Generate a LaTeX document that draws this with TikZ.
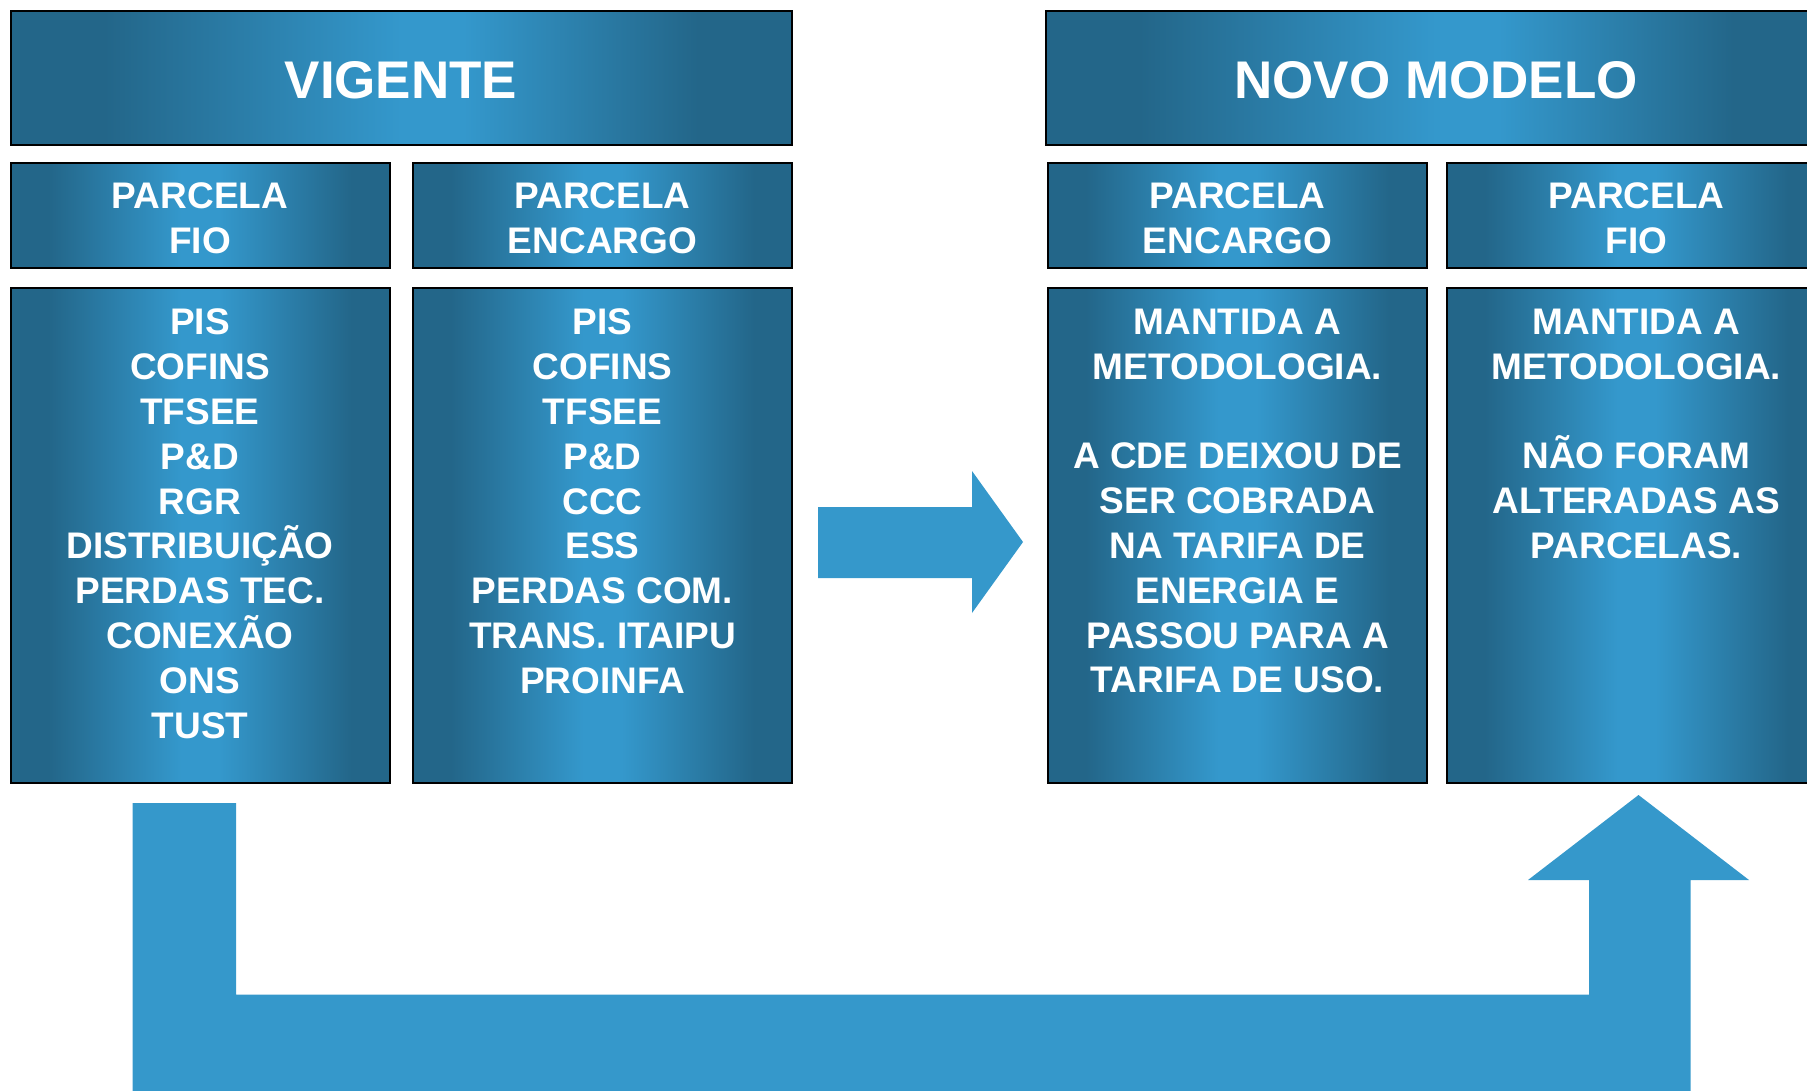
\documentclass[tikz,border=0pt]{standalone}
\usepackage{fontspec}
\setmainfont{Liberation Sans}
\usetikzlibrary{calc}
\definecolor{dk}{RGB}{35,102,137}
\definecolor{lt}{RGB}{52,152,204}
\definecolor{arr}{RGB}{53,152,203}
\pgfdeclarehorizontalshading{boxshade}{100bp}{color(0bp)=(dk); color(30bp)=(dk); color(47.5bp)=(lt); color(52.5bp)=(lt); color(70bp)=(dk); color(100bp)=(dk)}
\pgfdeclarehorizontalshading{headshade}{100bp}{color(0bp)=(dk); color(31bp)=(dk); color(50bp)=(lt); color(54bp)=(lt); color(69bp)=(dk); color(100bp)=(dk)}
\begin{document}
\begin{tikzpicture}[x=1pt,y=-1pt,
  panel/.style={draw=black, line width=2pt, shading=boxshade, inner sep=0pt, outer sep=0pt},
  head/.style={panel, shading=headshade, minimum width=781pt, minimum height=134pt},
  sub/.style={panel, minimum width=379pt, minimum height=105pt},
  tall/.style={panel, minimum width=379pt, minimum height=495pt},
  txt/.style={inner sep=0pt, text=white, align=center, font=\bfseries\fontsize{37pt}{44.8pt}\selectfont},
  headtxt/.style={txt, font=\bfseries\fontsize{53pt}{60pt}\selectfont},
  body/.style={txt, anchor=north},
  blockarrow/.style={fill=arr, draw=none}]
\useasboundingbox (0,0) rectangle (1807,1091);
\clip (0,0) rectangle (1807,1091);
% headers
\node[head] (vig) at (401,78.5) {};
\node[head] (novo) at (1436,78.5) {};
\node[headtxt] at ($(vig.center)+(0,1.5)$) {VIGENTE};
\node[headtxt] at ($(novo.center)+(0,1.5)$) {NOVO MODELO};
% row 2
\node[sub] (f1) at (200,216) {};
\node[sub] (e1) at (602.5,216) {};
\node[sub] (e2) at (1237.5,216) {};
\node[sub] (f2) at (1636.5,216) {};
\node[txt] at ($(f1.center)+(0,2.3)$) {PARCELA\\FIO};
\node[txt] at ($(e1.center)+(0,2.3)$) {PARCELA\\ENCARGO};
\node[txt] at ($(e2.center)+(0,2.3)$) {PARCELA\\ENCARGO};
\node[txt] at ($(f2.center)+(0,2.3)$) {PARCELA\\FIO};
% row 3
\node[tall] (bf1) at (200,535.5) {};
\node[tall] (be1) at (602.5,535.5) {};
\node[tall] (be2) at (1237.5,535.5) {};
\node[tall] (bf2) at (1636.5,535.5) {};
\node[body] (tf1) at ($(bf1.north)+(0,20.8)$) {PIS\\COFINS\\TFSEE\\P\&D\\RGR\\DISTRIBUIÇÃO\\PERDAS TEC.\\CONEXÃO\\ONS\\TUST};
\node[body] (te1) at ($(be1.north)+(0,20.8)$) {PIS\\COFINS\\TFSEE\\P\&D\\CCC\\ESS\\PERDAS COM.\\TRANS. ITAIPU\\PROINFA};
\node[body] (te2) at ($(be2.north)+(0,20.8)$) {MANTIDA A\\METODOLOGIA.\\[44.8pt]A CDE DEIXOU DE\\SER COBRADA\\NA TARIFA DE\\ENERGIA E\\PASSOU PARA A\\TARIFA DE USO.};
\node[body] (tf2) at ($(bf2.north)+(0,20.8)$) {MANTIDA A\\METODOLOGIA.\\[44.8pt]NÃO FORAM\\ALTERADAS AS\\PARCELAS.};
% right arrow
\fill[blockarrow] (818,507) -- (972,507) -- (972,471) -- (1023,542) -- (972,613) -- (972,578) -- (818,578) -- cycle;
% U-shaped arrow
\fill[blockarrow] (132.5,803) -- (236,803) -- (236,994.5) -- (1589,994.5) -- (1589,880) -- (1528,880)
  -- (1638.5,795) -- (1749,880) -- (1690.5,880) -- (1690.5,1091) -- (132.5,1091) -- cycle;
\end{tikzpicture}
\end{document}
